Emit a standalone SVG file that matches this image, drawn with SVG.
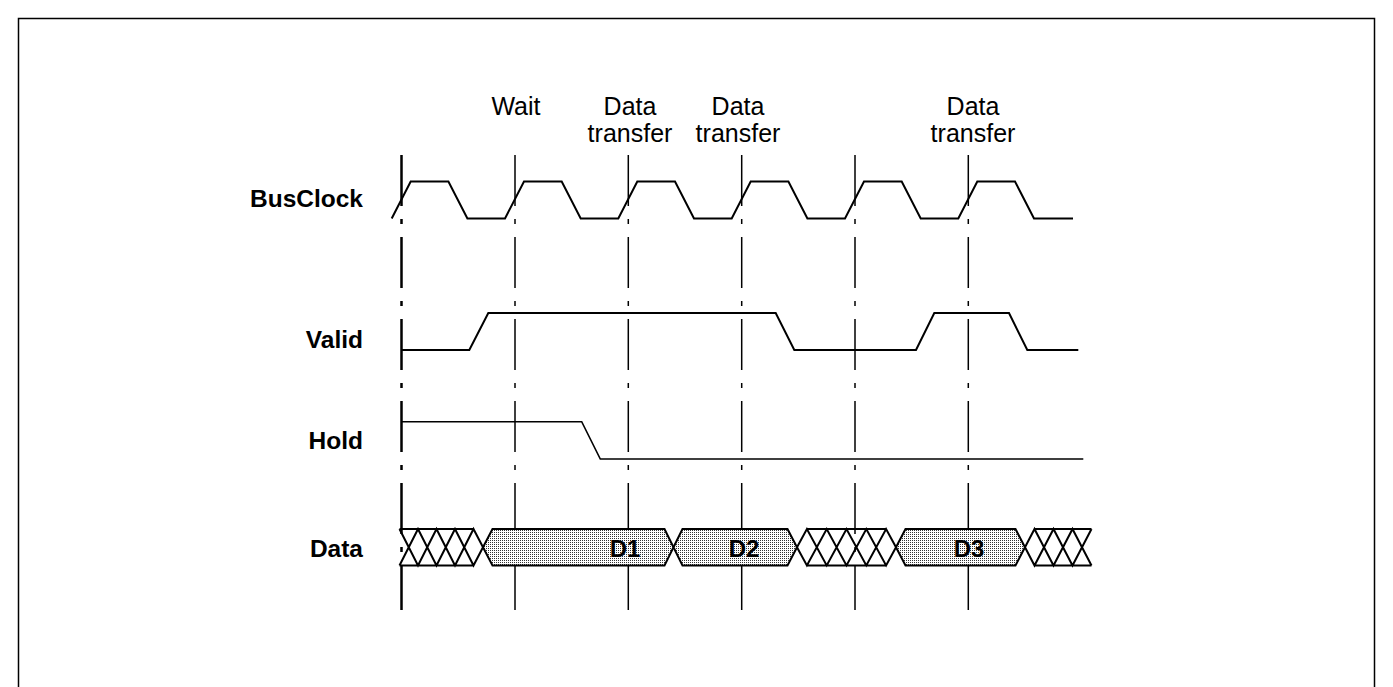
<svg xmlns="http://www.w3.org/2000/svg" width="1393" height="687" viewBox="0 0 1393 687">
<style>
.lbl{font-family:"Liberation Sans",Arial,sans-serif;font-weight:bold;font-size:24.5px;fill:#000;text-anchor:end}
.top{font-family:"Liberation Sans",Arial,sans-serif;font-size:25px;fill:#000;text-anchor:middle}
.dl{font-family:"Liberation Sans",Arial,sans-serif;font-weight:bold;font-size:24px;fill:#000;text-anchor:middle}
.sig{fill:none;stroke:#000;stroke-width:2;stroke-linejoin:miter}
.grid{stroke:#000;stroke-width:1.5;stroke-dasharray:51 13 5 13;fill:none}
.bus{fill:none;stroke:#000;stroke-width:2}
.hex{fill:url(#dots);stroke:#000;stroke-width:2}
</style>
<defs>
<pattern id="dots" width="2" height="2" patternUnits="userSpaceOnUse">
<rect width="2" height="2" fill="#fff"/>
<rect width="1" height="1" fill="#333"/>
</pattern>
</defs>
<rect x="0" y="0" width="1393" height="687" fill="#fff"/>
<rect x="18.5" y="18.5" width="1356" height="720" fill="none" stroke="#000" stroke-width="1.5"/>

<g id="gridlines">
<line class="grid" x1="401.5" y1="155" x2="401.5" y2="610" style="stroke-width:2.5"/>
<line class="grid" x1="515" y1="155" x2="515" y2="610"/>
<line class="grid" x1="628.3" y1="155" x2="628.3" y2="610"/>
<line class="grid" x1="741.7" y1="155" x2="741.7" y2="610"/>
<line class="grid" x1="855" y1="155" x2="855" y2="610"/>
<line class="grid" x1="968.3" y1="155" x2="968.3" y2="610"/>
</g>

<g id="phase-labels">
<text class="top" x="516" y="115">Wait</text>
<text class="top" x="630" y="115">Data</text>
<text class="top" x="630" y="141.5">transfer</text>
<text class="top" x="738" y="115">Data</text>
<text class="top" x="738" y="141.5">transfer</text>
<text class="top" x="973" y="115">Data</text>
<text class="top" x="973" y="141.5">transfer</text>
</g>

<g id="busclock">
<text class="lbl" x="363" y="207">BusClock</text>
<path class="sig" d="M391.7,218.5 L410.7,181.5 L448.4,181.5 L467.4,218.5 L505,218.5 L524,181.5 L561.7,181.5 L580.7,218.5 L618.3,218.5 L637.3,181.5 L675,181.5 L694,218.5 L731.7,218.5 L750.7,181.5 L788.4,181.5 L807.4,218.5 L845,218.5 L864,181.5 L901.7,181.5 L920.7,218.5 L958.3,218.5 L977.3,181.5 L1015,181.5 L1034,218.5 L1073,218.5"/>
</g>

<g id="valid">
<text class="lbl" x="363" y="348">Valid</text>
<path class="sig" d="M401.5,350 L469.3,350 L488.3,313 L775.7,313 L794.3,350 L916,350 L934.3,313 L1009,313 L1027.3,350 L1078.3,350"/>
</g>

<g id="hold">
<text class="lbl" x="363" y="449">Hold</text>
<path class="sig" style="stroke-width:1.6" d="M401.5,421.7 L581.7,421.7 L600.3,459 L1083.3,459"/>
</g>

<g id="data">
<text class="lbl" x="363" y="557">Data</text>
<path class="bus" d="M399.5,529 L418,565.5 L436.5,529 L455,565.5 L473.5,529 L483,547.25 M399.5,565.5 L418,529 L436.5,565.5 L455,529 L473.5,565.5 L483,547.25 M399.5,529 H473.5 M399.5,565.5 H473.5"/>
<polygon class="hex" points="483,547.25 492.5,529 664.5,529 673.5,547.25 664.5,565.5 492.5,565.5"/>
<polygon class="hex" points="673.5,547.25 682.5,529 787.5,529 797,547.25 787.5,565.5 682.5,565.5"/>
<path class="bus" d="M797,547.25 L806.9,529 L826.7,565.5 L846.5,529 L866.3,565.5 L886.1,529 L896,547.25 M797,547.25 L806.9,565.5 L826.7,529 L846.5,565.5 L866.3,529 L886.1,565.5 L896,547.25 M806.9,529 H886.1 M806.9,565.5 H886.1"/>
<polygon class="hex" points="896,547.25 905.5,529 1015.5,529 1025,547.25 1015.5,565.5 905.5,565.5"/>
<path class="bus" d="M1025,547.25 L1034.5,529 L1053.5,565.5 L1072.5,529 L1091.5,565.5 M1025,547.25 L1034.5,565.5 L1053.5,529 L1072.5,565.5 L1091.5,529 M1034.5,529 H1091.5 M1034.5,565.5 H1091.5"/>
<text class="dl" x="625" y="557">D1</text>
<text class="dl" x="744" y="557">D2</text>
<text class="dl" x="969" y="557">D3</text>
</g>
</svg>
